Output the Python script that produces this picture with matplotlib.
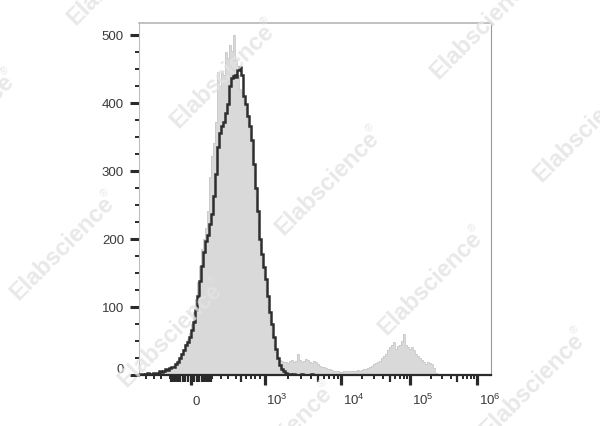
import numpy as np
import matplotlib
matplotlib.use("Agg")
import matplotlib.pyplot as plt
from matplotlib.transforms import ScaledTranslation

plt.rcParams['font.family'] = ['Liberation Sans', 'DejaVu Sans']

# biexponential display scale, read from the reference tick spacing
# (value -> distance from zero, arbitrary units), interpolated in asinh space
scale_vals = [100, 200, 300, 400, 500, 600, 700, 800, 900, 1e3, 1e4, 1e5, 1e6]
scale_pos = [21, 29.5, 37, 45, 50, 55, 59.7, 64, 68.5, 73.7, 149.7, 218.7, 285.3]

hv = np.arcsinh(np.array([-v for v in scale_vals[::-1]] + [0] + scale_vals) / 50.0)
pv = np.array([-p for p in scale_pos[::-1]] + [0] + scale_pos)


def _lin(a, xp, fp):
    out = np.interp(a, xp, fp)
    lo = a < xp[0]
    hi = a > xp[-1]
    out = np.where(lo, fp[0] + (a - xp[0]) * (fp[1] - fp[0]) / (xp[1] - xp[0]), out)
    out = np.where(hi, fp[-1] + (a - xp[-1]) * (fp[-1] - fp[-2]) / (xp[-1] - xp[-2]), out)
    return out


def fwd(x):
    return _lin(np.arcsinh(np.asarray(x, dtype=float) / 50.0), hv, pv)


def inv(t):
    return 50.0 * np.sinh(_lin(np.asarray(t, dtype=float), pv, hv))


x_min, x_max = -532, 1.6e6
y_max = 517

# counts per display channel (176 channels, evenly spaced on the display scale)
gray_counts = [
    0, 1, 1, 0, 1, 2, 1, 2, 2, 3,
    4, 5, 6, 7, 9, 10, 12, 14, 17, 21,
    26, 32, 38, 45, 52, 62, 75, 92, 112, 136,
    160, 185, 200, 215, 240, 290, 322, 340, 372, 445,
    425, 446, 440, 474, 466, 485, 476, 500, 462, 440,
    420, 415, 400, 390, 372, 355, 332, 298, 262, 225,
    192, 168, 148, 125, 100, 80, 60, 44, 33, 26,
    22, 20, 18, 19, 17, 20, 22, 18, 20, 30,
    22, 18, 20, 23, 21, 18, 17, 20, 18, 15,
    13, 12, 11, 10, 9, 8, 7, 6, 6, 5,
    4, 4, 5, 6, 5, 6, 5, 6, 6, 7,
    6, 7, 8, 8, 10, 11, 13, 15, 17, 19,
    20, 24, 28, 31, 36, 40, 44, 48, 38, 42,
    44, 50, 60, 43, 40, 38, 40, 36, 30, 27,
    24, 22, 18, 16, 18, 17, 16, 10, 3, 1,
    0, 0, 0, 0, 0, 0, 0, 0, 0, 0,
    0, 0, 0, 0, 0, 0, 0, 0, 0, 0,
    0, 0, 0, 0, 0, 0,
]

black_counts = [
    1, 1, 0, 1, 2, 1, 1, 2, 3, 2,
    5, 4, 6, 8, 7, 10, 12, 11, 15, 19,
    24, 30, 36, 43, 48, 55, 65, 78, 95, 115,
    138, 160, 180, 196, 206, 222, 236, 262, 295, 335,
    355, 366, 372, 385, 398, 425, 436, 440, 437, 448,
    452, 440, 410, 398, 380, 366, 345, 310, 275, 240,
    200, 178, 158, 140, 115, 92, 74, 55, 38, 25,
    14, 8, 5, 3, 1, 1, 0, 1, 0, 0,
    0, 1, 0, 0, 0, 0, 1, 0, 0, 0,
    0, 0, 0, 0, 0, 0, 0, 0, 0, 0,
    0, 0, 0, 0, 0, 0, 0, 0, 0, 0,
    0, 0, 0, 0, 0, 0, 0, 0, 0, 0,
    0, 0, 0, 0, 0, 0, 0, 0, 0, 0,
    0, 0, 0, 0, 0, 0, 0, 0, 0, 0,
    0, 0, 0, 0, 0, 0, 0, 0, 0, 0,
    0, 0, 0, 0, 0, 0, 0, 0, 0, 0,
    0, 0, 0, 0, 0, 0, 0, 0, 0, 0,
    0, 0, 0, 0, 0, 0,
]

x_major = [0, 1e3, 1e4, 1e5, 1e6]
x_labels = ["0", r"$\mathregular{10^3}$", r"$\mathregular{10^4}$",
            r"$\mathregular{10^5}$", r"$\mathregular{10^6}$"]
x_mid = [-90, -80, -70, -60, -50, -40, -30, -20, -10,
         10, 20, 30, 40, 50, 60, 70, 80, 90,
         500, 5e3, 5e4, 5e5]
x_minor = ([-400, -300, -200, -100] + [k * 100 for k in (1, 2, 3, 4, 6, 7, 8, 9)]
           + [k * 1e3 for k in (2, 3, 4, 6, 7, 8, 9)]
           + [k * 1e4 for k in (2, 3, 4, 6, 7, 8, 9)]
           + [k * 1e5 for k in (2, 3, 4, 6, 7, 8, 9)])
y_major = [0, 100, 200, 300, 400, 500]
y_minor = [25, 50, 75, 125, 150, 175, 225, 250, 275, 325, 350, 375,
           425, 450, 475]

watermarks = [(222, 76), (327, 183), (430, 283), (532, 385),
              (482, 27), (585, 130), (62, 248), (170, 335), (280, 438),
              (119, -27), (-38, 126)]

fig = plt.figure(figsize=(6, 4.27), dpi=100)
ax = fig.add_axes([139 / 600, 1 - 375.7 / 427, 352 / 600, 351.7 / 427])

edges = inv(np.linspace(fwd(x_min), fwd(x_max), len(gray_counts) + 1))

ax.stairs(gray_counts, edges, fill=True, color='#d9d9d9', zorder=1)
ax.stairs(gray_counts, edges, color='#c9c9c9', lw=0.6, zorder=2)
ax.stairs(black_counts, edges, color='#2e2e2e', lw=1.8, zorder=3)

ax.set_xscale('function', functions=(fwd, inv))
ax.set_xlim(x_min, x_max)
ax.set_ylim(0, y_max)

ax.set_xticks(x_major + x_mid, x_labels + [""] * len(x_mid))
ax.set_xticks(x_minor, minor=True)
ax.set_yticks(y_major)
ax.set_yticks(y_minor, minor=True)

ax.tick_params(axis='x', which='major', direction='out', length=7.5, width=2.3,
               color='#2a2a2a', labelcolor='#3a3a3a', labelsize=9.5, pad=13.6)
ax.tick_params(axis='x', which='minor', direction='out', length=3.0, width=1.4,
               color='#2a2a2a')
ax.tick_params(axis='y', which='major', direction='out', length=6.5, width=2.2,
               color='#2a2a2a', labelcolor='#3a3a3a', labelsize=9.5, pad=4.3)
ax.tick_params(axis='y', which='minor', direction='out', length=3.0, width=1.4,
               color='#2a2a2a')

for tk, v in zip(ax.xaxis.get_major_ticks(), x_major + x_mid):
    if v in x_mid:
        tk.tick1line.set_markersize(5.0)
        tk.tick1line.set_markeredgewidth(1.6)

for lbl in ax.get_xticklabels():
    lbl.set_verticalalignment('baseline')
    lbl.set_horizontalalignment('left')
    lbl.set_transform(lbl.get_transform() + ScaledTranslation(1.5 / 100, 0, fig.dpi_scale_trans))

ax.get_yticklabels()[0].set_verticalalignment('bottom')

ax.spines['bottom'].set_color('#2a2a2a')
ax.spines['bottom'].set_linewidth(1.6)
ax.spines['left'].set_color('#bdbdbd')
ax.spines['left'].set_linewidth(0.8)
ax.spines['top'].set_color('#b0b0b0')
ax.spines['top'].set_linewidth(1.1)
ax.spines['right'].set_color('#9a9a9a')
ax.spines['right'].set_linewidth(0.8)

for wx, wy in watermarks:
    fig.text(wx / 600, 1 - wy / 427, "Elabscience", rotation=45,
             ha='center', va='center', fontsize=17, fontweight='bold',
             color='#e3e3e3', alpha=0.8, zorder=10)
    fig.text((wx + 43) / 600, 1 - (wy - 55) / 427, "\u00ae", rotation=45,
             ha='center', va='center', fontsize=8,
             color='#e3e3e3', alpha=0.8, zorder=10)

fig.savefig("out.png", dpi=100)
